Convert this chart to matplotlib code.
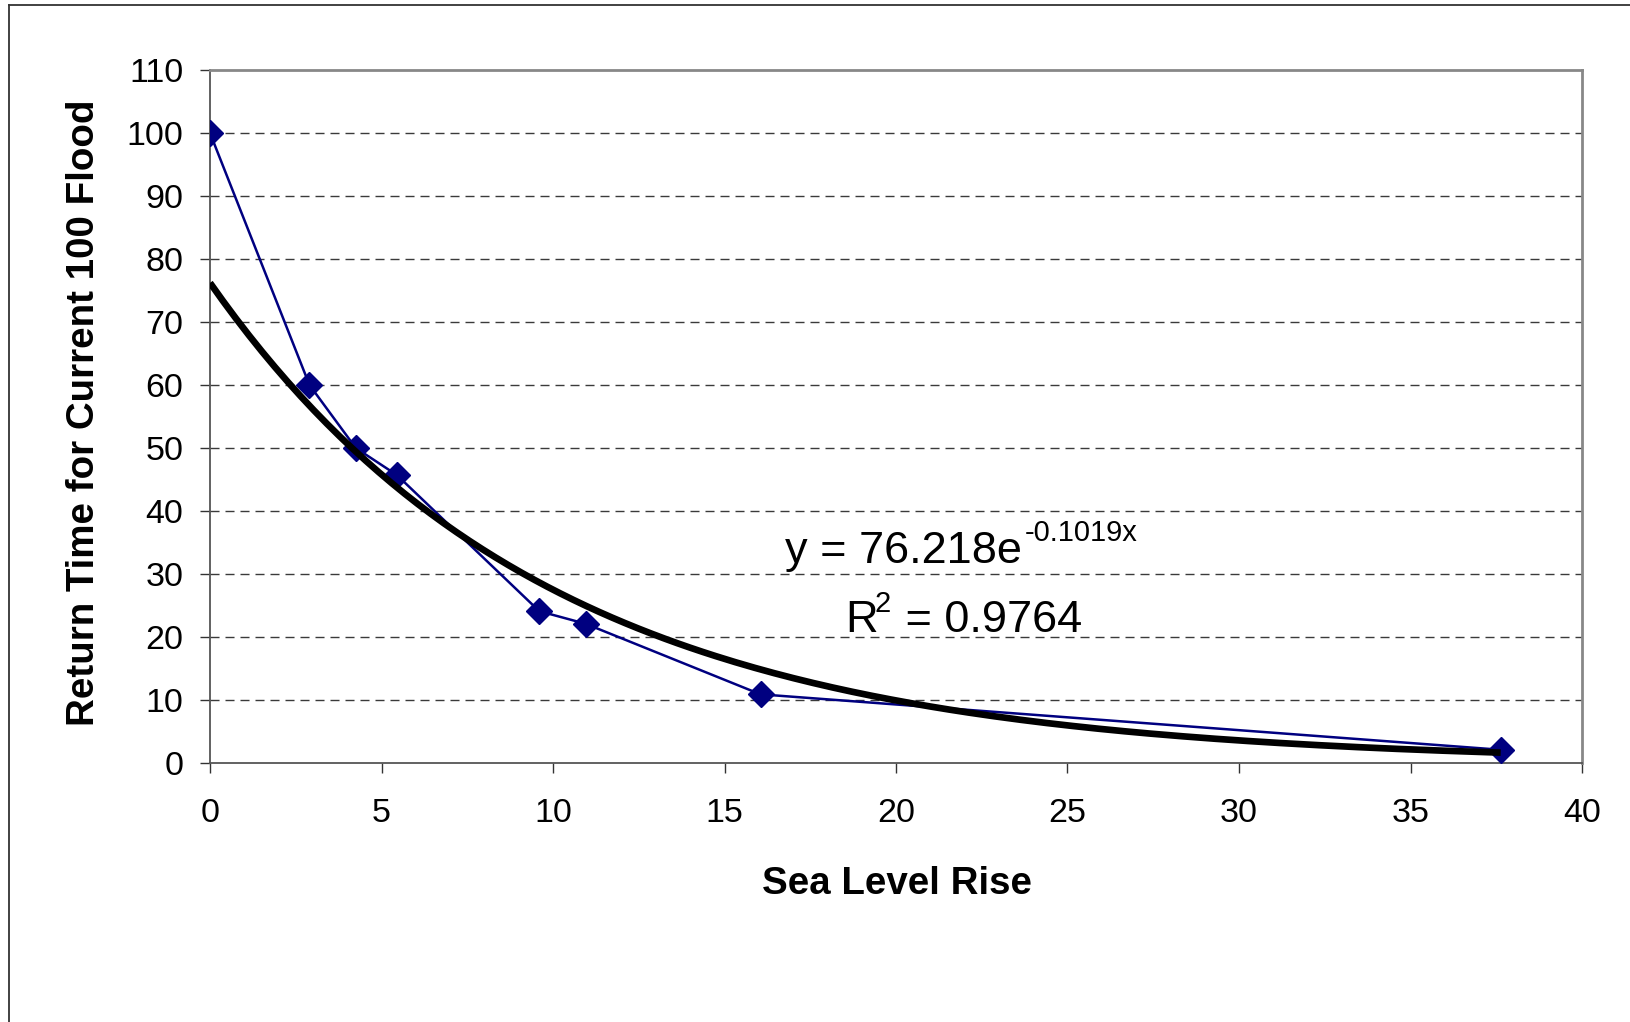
import numpy as np
import matplotlib
matplotlib.use("Agg")
import matplotlib.pyplot as plt
from matplotlib.lines import Line2D

plt.rcParams["font.family"] = ["Liberation Sans", "DejaVu Sans"]

# datos
sea_level = [0.0, 2.9, 4.25, 5.45, 9.6, 10.95, 16.05, 37.63]
return_time = [100.0, 60.0, 50.0, 45.7, 24.1, 22.1, 10.9, 2.1]
fit_a = 76.218
fit_b = -0.1019
r2 = 0.9764
x_ticks = [0, 5, 10, 15, 20, 25, 30, 35, 40]
y_ticks = [0, 10, 20, 30, 40, 50, 60, 70, 80, 90, 100, 110]

W, H = 1631, 1022
fig = plt.figure(figsize=(W / 100, H / 100), dpi=100)
fig.patch.set_facecolor("white")

# marco exterior del gráfico (recortado a la derecha y abajo)
fig.add_artist(Line2D([9 / W, 1.0], [1 - 5 / H, 1 - 5 / H], color="#333333", lw=1.3, transform=fig.transFigure))
fig.add_artist(Line2D([9 / W, 9 / W], [1 - 5 / H, 0.0], color="#333333", lw=1.3, transform=fig.transFigure))

left, right, top, bottom = 210, 1582, 70, 763
ax = fig.add_axes([left / W, 1 - bottom / H, (right - left) / W, (bottom - top) / H])

ax.set_xlim(0, 40)
ax.set_ylim(0, 110)
ax.set_xticks(x_ticks)
ax.set_yticks(y_ticks)

for y in y_ticks[1:-1]:
    ax.axhline(y, color="#3a3a3a", lw=1.0, linestyle=(0, (6.5, 4.3)), zorder=1)

# serie de datos
ax.plot(sea_level, return_time, color="#000080", lw=1.8, marker="D", markersize=13.5,
        markerfacecolor="#000080", markeredgecolor="#000080", zorder=3)

# línea de tendencia exponencial
xs = np.linspace(0, max(sea_level), 200)
ax.plot(xs, fit_a * np.exp(fit_b * xs), color="black", lw=4.8, zorder=4, solid_capstyle="butt")

for s in ["top", "right"]:
    ax.spines[s].set_color("#888888")
    ax.spines[s].set_linewidth(2)
for s in ["left", "bottom"]:
    ax.spines[s].set_color("#555555")
    ax.spines[s].set_linewidth(1.3)

ax.tick_params(axis="both", direction="out", length=7.2, width=1.0, color="#333333", labelsize=24.5)
ax.tick_params(axis="y", pad=12)
ax.tick_params(axis="x", pad=18)

ax.set_xlabel("Sea Level Rise", fontsize=27.7, fontweight="bold")
ax.set_ylabel("Return Time for Current 100 Flood", fontsize=27.7, fontweight="bold")
ax.xaxis.set_label_coords((897 - left) / (right - left), (bottom - 884) / (bottom - top))
ax.yaxis.set_label_coords((84 - left) / (right - left), 0.506)
ax.xaxis.label.set_va("center")
ax.yaxis.label.set_va("center")

# ecuación de ajuste
fig.text(785 / W, 1 - 563 / H, f"y = {fit_a:.3f}e", fontsize=32.5, va="baseline", ha="left")
fig.text(1025 / W, 1 - 541 / H, f"{fit_b:.4f}x", fontsize=21, va="baseline", ha="left")
fig.text(845 / W, 1 - 632 / H, "R", fontsize=32.5, va="baseline", ha="left")
fig.text(875 / W, 1 - 612 / H, "2", fontsize=21, va="baseline", ha="left")
fig.text(893 / W, 1 - 632 / H, f" = {r2:.4f}", fontsize=32.5, va="baseline", ha="left")

fig.savefig("out.png", dpi=100, facecolor="white")
